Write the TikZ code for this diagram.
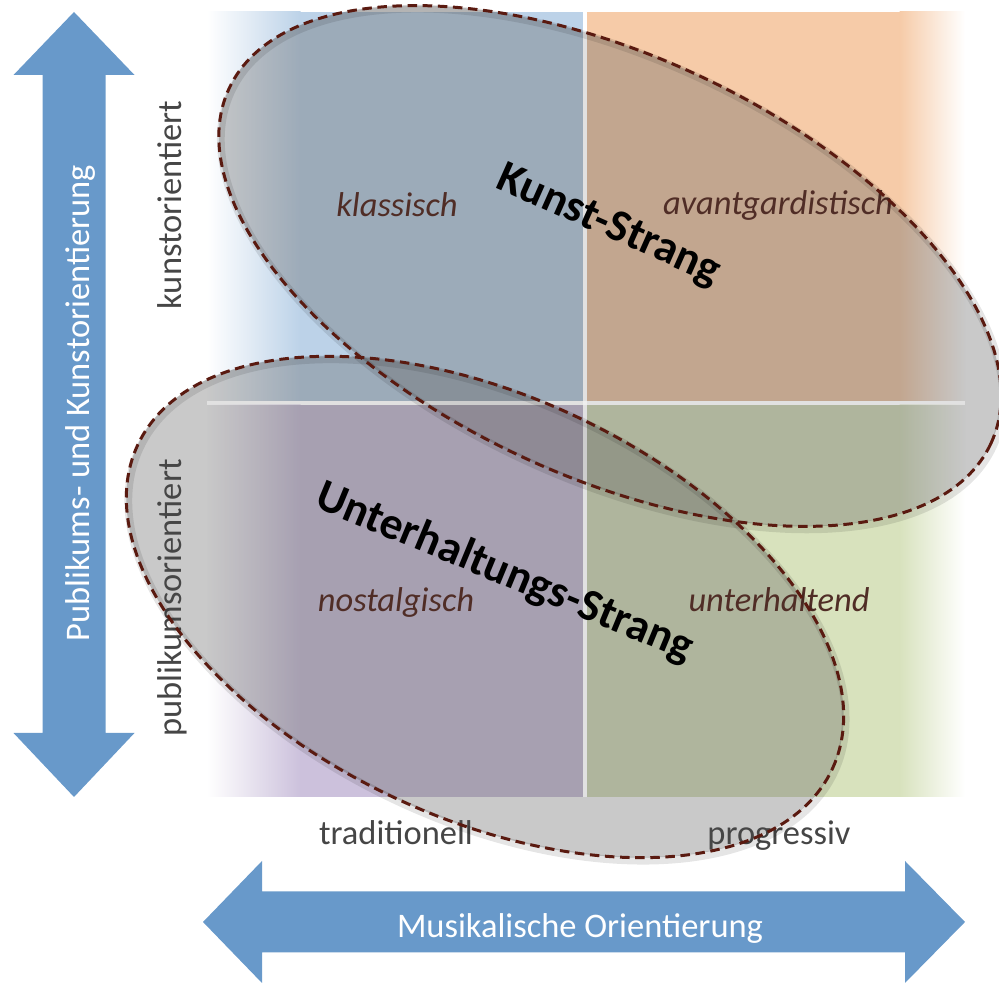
\documentclass[tikz,border=0pt]{standalone}
\usepackage{fontspec}
\setmainfont{Carlito}
\definecolor{arrowblue}{RGB}{104,153,202}
\definecolor{qblue}{RGB}{188,210,232}
\definecolor{qorange}{RGB}{246,203,168}
\definecolor{qlav}{RGB}{204,193,220}
\definecolor{qgreen}{RGB}{216,226,189}
\definecolor{ellgray}{RGB}{99,99,99}
\definecolor{dashbrown}{RGB}{90,26,16}
\definecolor{labelbrown}{RGB}{80,45,38}
\definecolor{axisgray}{RGB}{70,70,70}
\begin{document}
\begin{tikzpicture}[x=0.01cm,y=-0.01cm,
  axislabel/.style={font=\fontsize{9.8}{12}\selectfont, text=axisgray, inner sep=0pt, anchor=base},
  quadlabel/.style={font=\fontsize{9.8}{12}\selectfont\itshape, text=labelbrown, inner sep=0pt, anchor=base},
  strang/.style={font=\fontsize{12.9}{15}\selectfont\bfseries, text=black, inner sep=0pt, anchor=base},
  arrowlabel/.style={font=\fontsize{9.8}{12}\selectfont, text=white, inner sep=0pt, anchor=base},
  ellfill/.style={fill=ellgray, fill opacity=0.35},
  elldash/.style={draw=dashbrown, line width=0.85pt, dash pattern=on 2.7pt off 1.6pt},
  ellshadow/.style={draw=black, draw opacity=0.10, line width=2.2pt},
  bigarrow/.style={fill=arrowblue},
  divider/.style={draw=white, draw opacity=0.45, line width=1.1pt}]

\useasboundingbox (0,0) rectangle (999,983);

% quadrants
\fill[qblue] (300,12) rectangle (583,401);
\shade[left color=white, right color=qblue!45!white] (207,12) rectangle (250.5,401);
\shade[left color=qblue!45!white, right color=qblue] (250,12) rectangle (300.5,401);
\fill[qorange] (587,12) rectangle (900,401);
\shade[left color=qorange, right color=qorange!45!white] (899.5,12) rectangle (935.5,401);
\shade[left color=qorange!45!white, right color=white] (935,12) rectangle (965,401);
\fill[qlav] (300,405) rectangle (583,797);
\shade[left color=white, right color=qlav!45!white] (207,405) rectangle (250.5,797);
\shade[left color=qlav!45!white, right color=qlav] (250,405) rectangle (300.5,797);
\fill[qgreen] (587,405) rectangle (900,797);
\shade[left color=qgreen, right color=qgreen!45!white] (899.5,405) rectangle (935.5,797);
\shade[left color=qgreen!45!white, right color=white] (935,405) rectangle (965,797);

% arrows
\fill[bigarrow] (74,12) -- (134.5,75) -- (105.5,75) -- (105.5,733) -- (134.5,733)
  -- (74,797) -- (13.5,733) -- (42.5,733) -- (42.5,75) -- (13.5,75) -- cycle;
\fill[bigarrow] (203,922) -- (262,861) -- (262,891.5) -- (905,891.5) -- (905,861)
  -- (965,922) -- (905,983) -- (905,952.5) -- (262,952.5) -- (262,983) -- cycle;

% ellipse fills
\fill[ellfill, rotate around={-25:(610,266)}] (610,266) ellipse [x radius=4.2cm, y radius=2.1cm];
\fill[ellfill, rotate around={-25:(485,607)}] (485,607) ellipse [x radius=3.83cm, y radius=2.11cm];

% dividers
\draw[divider] (585,12) -- (585,797);
\draw[divider] (207,403) -- (965,403);

% labels
\node[quadlabel] (klassisch) at (397,217) {klassisch};
\node[quadlabel] (avant) at (778,215) {avantgardistisch};
\node[quadlabel] (nostalgisch) at (396,612) {nostalgisch};
\node[quadlabel] (unterhaltend) at (779,612) {unterhaltend};

\node[axislabel, rotate=90] (kunstor) at (182,205) {kunstorientiert};
\node[axislabel, rotate=90] (publikumsor) at (182,598) {publikumsorientiert};
\node[axislabel] (traditionell) at (396,845) {traditionell};
\node[axislabel] (progressiv) at (779,845) {progressiv};

\node[arrowlabel, rotate=90] (vlabel) at (90,403) {Publikums- und Kunstorientierung};
\node[arrowlabel] (hlabel) at (580,938) {Musikalische Orientierung};

% ellipse soft shadows and borders
\draw[ellshadow, rotate around={-25:(612,269)}] (612,269) ellipse [x radius=4.2cm, y radius=2.1cm];
\draw[ellshadow, rotate around={-25:(487,610)}] (487,610) ellipse [x radius=3.83cm, y radius=2.11cm];
\draw[elldash, rotate around={-25:(610,266)}] (610,266) ellipse [x radius=4.2cm, y radius=2.1cm];
\draw[elldash, rotate around={-25:(485,607)}] (485,607) ellipse [x radius=3.83cm, y radius=2.11cm];

% titles
\node[strang, rotate=-24] (kunst) at (604,236) {Kunst-Strang};
\node[strang, rotate=-22.5] (unterhaltung) at (500,584) {Unterhaltungs-Strang};
\end{tikzpicture}
\end{document}
